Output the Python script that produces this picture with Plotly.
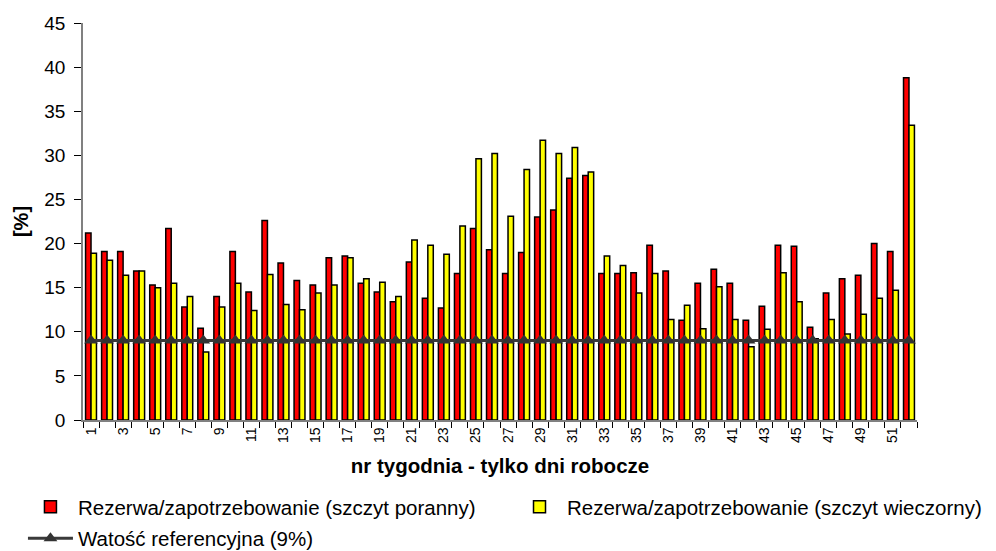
import plotly.graph_objects as go

weeks = list(range(1, 53))

# rezerwa / zapotrzebowanie, szczyt poranny [%]
morning = [21.2, 19.1, 19.1, 16.9, 15.3, 21.7, 12.8, 10.4, 14.0, 19.1,
           14.5, 22.6, 17.8, 15.8, 15.3, 18.4, 18.6, 15.5, 14.5, 13.4,
           17.9, 13.8, 12.7, 16.6, 21.7, 19.3, 16.6, 19.0, 23.0, 23.8,
           27.4, 27.7, 16.6, 16.6, 16.7, 19.8, 16.9, 11.3, 15.5, 17.1,
           15.5, 11.3, 12.9, 19.8, 19.7, 10.5, 14.4, 16.0, 16.4, 20.0,
           19.1, 38.8]

# rezerwa / zapotrzebowanie, szczyt wieczorny [%]
evening = [18.9, 18.1, 16.4, 16.9, 15.0, 15.5, 14.0, 7.7, 12.8, 15.5,
           12.4, 16.5, 13.1, 12.5, 14.4, 15.3, 18.4, 16.0, 15.6, 14.0,
           20.4, 19.8, 18.8, 22.0, 29.6, 30.2, 23.1, 28.4, 31.7, 30.2,
           30.9, 28.1, 18.6, 17.5, 14.4, 16.6, 11.4, 13.0, 10.35, 15.1,
           11.4, 8.3, 10.3, 16.7, 13.4, 9.2, 11.4, 9.75, 12.0, 13.8,
           14.7, 33.4]

reference = [9] * len(weeks)

tick_vals = [w for w in weeks if w % 2 == 1]
tick_labels = [str(w) for w in tick_vals]

FONT = "Liberation Sans, Arial, sans-serif"

fig = go.Figure()
fig.add_trace(go.Bar(
    x=weeks, y=morning, name="Rezerwa/zapotrzebowanie (szczyt poranny)",
    marker=dict(color="#ff0000", line=dict(color="#000000", width=1.5)),
    legend="legend",
))
fig.add_trace(go.Bar(
    x=weeks, y=evening, name="Rezerwa/zapotrzebowanie (szczyt wieczorny)",
    marker=dict(color="#ffff00", line=dict(color="#000000", width=1.5)),
    legend="legend2",
))
fig.add_trace(go.Scatter(
    x=weeks, y=reference, name="Watość referencyjna (9%)",
    mode="lines+markers", legend="legend3",
    line=dict(color="#3a3a3a", width=3),
    marker=dict(symbol="triangle-up", size=12, color="#333333"),
))

legend_common = dict(
    orientation="h", xanchor="left", yanchor="middle",
    font=dict(family=FONT, size=20.5, color="#000000"),
    itemwidth=45, bgcolor="rgba(0,0,0,0)",
)

# the page puts the figure 8px in from the top-left corner
fig.update_layout(
    width=988, height=543,
    margin=dict(l=75, r=79, t=15, b=131, autoexpand=False),
    paper_bgcolor="white", plot_bgcolor="white",
    font=dict(family=FONT, size=20, color="#000000"),
    barmode="group", bargap=0.32, bargroupgap=0,
    showlegend=True,
    legend=dict(x=-0.072, y=-0.219, **legend_common),
    legend2=dict(x=0.5144, y=-0.219, **legend_common),
    legend3=dict(x=-0.072, y=-0.298, **legend_common),
    hovermode=False,
)

fig.update_xaxes(
    range=[0.5, 52.5],
    tickmode="array", tickvals=tick_vals, ticktext=tick_labels,
    tickangle=-90, tickfont=dict(size=14),
    ticks="", showline=True, linecolor="#808080", linewidth=1.5,
    minor=dict(tickmode="linear", tick0=0.5, dtick=1, ticks="outside",
               ticklen=6, tickcolor="#000000", tickwidth=1),
    showgrid=False, zeroline=False,
    title=dict(text="<b>nr tygodnia - tylko dni robocze</b>", standoff=17,
               font=dict(size=20.5)),
)
fig.update_yaxes(
    range=[0, 45], dtick=5, tick0=0,
    ticks="outside", ticklen=7, tickcolor="#000000",
    ticklabelstandoff=5,
    showline=True, linecolor="#808080", linewidth=1.5,
    showgrid=False, zeroline=False,
    tickfont=dict(size=19),
    title=dict(text="<b>[%]</b>", standoff=10, font=dict(size=20)),
)

fig.write_html("out.html")
